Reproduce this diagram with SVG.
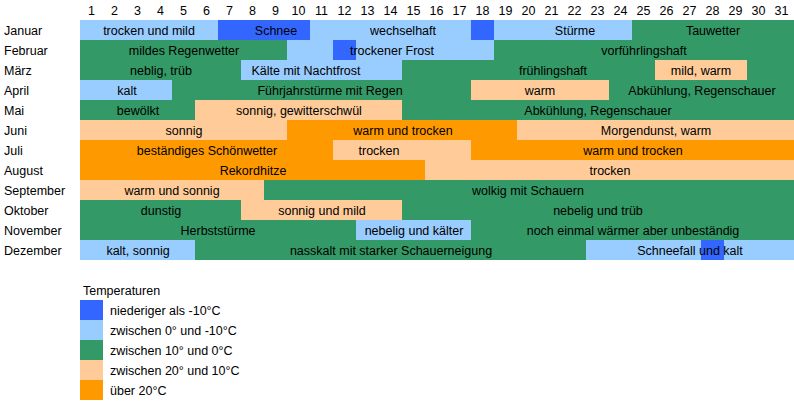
<svg xmlns="http://www.w3.org/2000/svg" width="794" height="401" viewBox="0 0 794 401">
<style>
text{font-family:"Liberation Sans",Arial,sans-serif;font-size:12.5px;fill:#000}
.c{text-anchor:middle}
.db{fill:#3366ff}.lb{fill:#99ccff}.g{fill:#339966}.lo{fill:#ffcc99}.o{fill:#ff9900}
</style>
<rect width="794" height="401" fill="#fff"/>
<g id="days" class="c">
<text x="91.5" y="15">1</text><text x="114.5" y="15">2</text><text x="137.5" y="15">3</text><text x="160.5" y="15">4</text><text x="183.5" y="15">5</text><text x="206.5" y="15">6</text><text x="229.5" y="15">7</text><text x="252.5" y="15">8</text><text x="275.5" y="15">9</text><text x="298.5" y="15">10</text><text x="321.5" y="15">11</text><text x="344.5" y="15">12</text><text x="367.5" y="15">13</text><text x="390.5" y="15">14</text><text x="413.5" y="15">15</text><text x="436.5" y="15">16</text><text x="459.5" y="15">17</text><text x="482.5" y="15">18</text><text x="505.5" y="15">19</text><text x="528.5" y="15">20</text><text x="551.5" y="15">21</text><text x="574.5" y="15">22</text><text x="597.5" y="15">23</text><text x="620.5" y="15">24</text><text x="643.5" y="15">25</text><text x="666.5" y="15">26</text><text x="689.5" y="15">27</text><text x="712.5" y="15">28</text><text x="735.5" y="15">29</text><text x="758.5" y="15">30</text><text x="781.5" y="15">31</text>
</g>
<g id="months">
<text x="4" y="35">Januar</text><text x="4" y="55">Februar</text><text x="4" y="75">März</text><text x="4" y="95">April</text><text x="4" y="115">Mai</text><text x="4" y="135">Juni</text><text x="4" y="155">Juli</text><text x="4" y="175">August</text><text x="4" y="195">September</text><text x="4" y="215">Oktober</text><text x="4" y="235">November</text><text x="4" y="255">Dezember</text>
</g>
<g id="bars">
<rect class="lb" x="80" y="20" width="138" height="20"/><rect class="db" x="218" y="20" width="92" height="20"/><rect class="lb" x="310" y="20" width="161" height="20"/><rect class="db" x="471" y="20" width="23" height="20"/><rect class="lb" x="494" y="20" width="138" height="20"/><rect class="g" x="632" y="20" width="162" height="20"/>
<rect class="g" x="80" y="40" width="207" height="20"/><rect class="lb" x="287" y="40" width="46" height="20"/><rect class="db" x="333" y="40" width="23" height="20"/><rect class="lb" x="356" y="40" width="138" height="20"/><rect class="g" x="494" y="40" width="300" height="20"/>
<rect class="g" x="80" y="60" width="161" height="20"/><rect class="lb" x="241" y="60" width="161" height="20"/><rect class="g" x="402" y="60" width="392" height="20"/><rect class="lo" x="655" y="60" width="92" height="20"/>
<rect class="lb" x="80" y="80" width="92" height="20"/><rect class="g" x="172" y="80" width="622" height="20"/><rect class="lo" x="471" y="80" width="138" height="20"/>
<rect class="g" x="80" y="100" width="115" height="20"/><rect class="lo" x="195" y="100" width="207" height="20"/><rect class="g" x="402" y="100" width="392" height="20"/>
<rect class="lo" x="80" y="120" width="207" height="20"/><rect class="o" x="287" y="120" width="230" height="20"/><rect class="lo" x="517" y="120" width="277" height="20"/>
<rect class="o" x="80" y="140" width="253" height="20"/><rect class="lo" x="333" y="140" width="138" height="20"/><rect class="o" x="471" y="140" width="323" height="20"/>
<rect class="o" x="80" y="160" width="345" height="20"/><rect class="lo" x="425" y="160" width="369" height="20"/>
<rect class="lo" x="80" y="180" width="184" height="20"/><rect class="g" x="264" y="180" width="530" height="20"/>
<rect class="g" x="80" y="200" width="161" height="20"/><rect class="lo" x="241" y="200" width="161" height="20"/><rect class="g" x="402" y="200" width="392" height="20"/>
<rect class="g" x="80" y="220" width="276" height="20"/><rect class="lb" x="356" y="220" width="115" height="20"/><rect class="g" x="471" y="220" width="323" height="20"/>
<rect class="lb" x="80" y="240" width="115" height="20"/><rect class="g" x="195" y="240" width="391" height="20"/><rect class="lb" x="586" y="240" width="208" height="20"/><rect class="db" x="701" y="240" width="23" height="20"/>
</g>
<g id="labels" class="c">
<text x="149" y="35">trocken und mild</text><text x="276" y="35">Schnee</text><text x="403" y="35">wechselhaft</text><text x="575" y="35">Stürme</text><text x="713" y="35">Tauwetter</text>
<text x="184" y="55">mildes Regenwetter</text><text x="392" y="55">trockener Frost</text><text x="644" y="55">vorführlingshaft</text>
<text x="161" y="75">neblig, trüb</text><text x="306" y="75">Kälte mit Nachtfrost</text><text x="553" y="75">frühlingshaft</text><text x="701" y="75">mild, warm</text>
<text x="127" y="95">kalt</text><text x="330" y="95">Führjahrstürme mit Regen</text><text x="540" y="95">warm</text><text x="702" y="95">Abkühlung, Regenschauer</text>
<text x="138" y="115">bewölkt</text><text x="299" y="115">sonnig, gewitterschwül</text><text x="598" y="115">Abkühlung, Regenschauer</text>
<text x="184" y="135">sonnig</text><text x="403" y="135">warm und trocken</text><text x="656" y="135">Morgendunst, warm</text>
<text x="207" y="155">beständiges Schönwetter</text><text x="379" y="155">trocken</text><text x="633" y="155">warm und trocken</text>
<text x="253" y="175">Rekordhitze</text><text x="610" y="175">trocken</text>
<text x="172" y="195">warm und sonnig</text><text x="528" y="195">wolkig mit Schauern</text>
<text x="161" y="215">dunstig</text><text x="322" y="215">sonnig und mild</text><text x="598" y="215">nebelig und trüb</text>
<text x="218" y="235">Herbststürme</text><text x="414" y="235">nebelig und kälter</text><text x="633" y="235">noch einmal wärmer aber unbeständig</text>
<text x="138" y="255">kalt, sonnig</text><text x="391" y="255">nasskalt mit starker Schauerneigung</text><text x="690" y="255">Schneefall und kalt</text>
</g>
<g id="legend">
<text x="83" y="295">Temperaturen</text>
<rect class="db" x="80" y="300" width="23" height="20"/><text x="110" y="315">niederiger als -10°C</text>
<rect class="lb" x="80" y="320" width="23" height="20"/><text x="110" y="335">zwischen 0° und -10°C</text>
<rect class="g" x="80" y="340" width="23" height="20"/><text x="110" y="355">zwischen 10° und 0°C</text>
<rect class="lo" x="80" y="360" width="23" height="20"/><text x="110" y="375">zwischen 20° und 10°C</text>
<rect class="o" x="80" y="380" width="23" height="20"/><text x="110" y="395">über 20°C</text>
</g>
</svg>
